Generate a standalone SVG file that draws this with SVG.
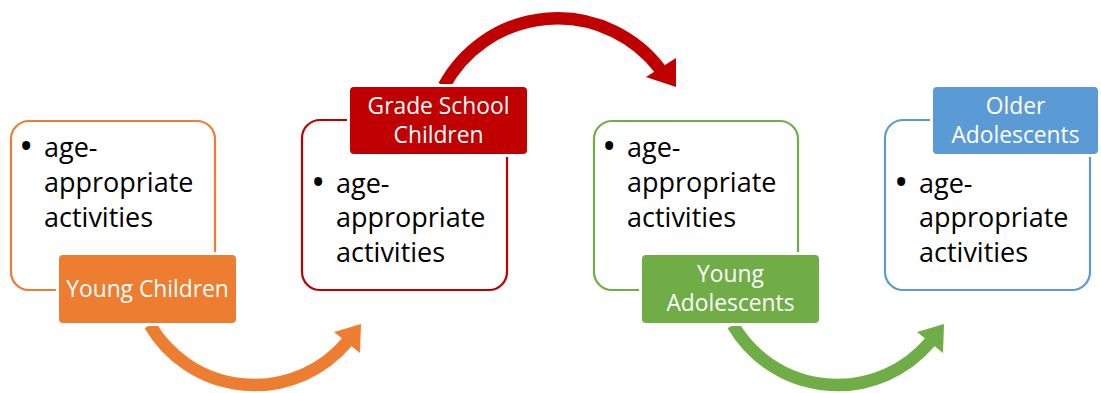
<svg xmlns="http://www.w3.org/2000/svg" width="1101" height="393" viewBox="0 0 1101 393">
<style>
  .frame{fill:#fff;stroke-width:2.2}
  .lab{stroke:#fff;stroke-width:6;paint-order:stroke}
  .body{font-family:"Open Sans","Noto Sans",sans-serif;font-size:27px;fill:#000}
  .bul{font-family:"Open Sans","Noto Sans",sans-serif;font-size:38px;fill:#000}
  .lt{font-family:"Open Sans","Noto Sans",sans-serif;font-size:22.8px;fill:#fff;text-anchor:middle}
  .arc{fill:none;stroke-width:12.5}
</style>
<rect width="1101" height="393" fill="#fff"/>
<g id="connectors">
  <path class="arc" stroke="#ED7D31" d="M150 325 A121 121 0 0 0 347 342"/>
  <polygon fill="#ED7D31" points="361,324 334,332 360,353"/>
  <path class="arc" stroke="#C00000" d="M444 86 A129 129 0 0 1 660 69"/>
  <polygon fill="#C00000" points="676,87 646,77 676,58"/>
  <path class="arc" stroke="#70AD47" d="M733 325 A121 121 0 0 0 930 342"/>
  <polygon fill="#70AD47" points="944,324 917,332 943,353"/>
</g>
<g id="node-young-children">
  <rect class="frame" stroke="#ED7D31" x="11" y="121" width="204" height="169" rx="18"/>
  <text class="bul" x="19" y="160">•</text>
  <text class="body"><tspan x="44" y="157">age-</tspan><tspan x="44" y="192">appropriate</tspan><tspan x="44" y="227">activities</tspan></text>
  <rect class="lab" fill="#ED7D31" x="59" y="255" width="177" height="68" rx="4"/>
  <text class="lt" x="147.5" y="297">Young Children</text>
</g>
<g id="node-grade-school">
  <rect class="frame" stroke="#C00000" x="302" y="120" width="205" height="170" rx="18"/>
  <text class="bul" x="311" y="196">•</text>
  <text class="body"><tspan x="336" y="193">age-</tspan><tspan x="336" y="227">appropriate</tspan><tspan x="336" y="262">activities</tspan></text>
  <rect class="lab" fill="#C00000" x="350" y="87" width="177" height="67" rx="4"/>
  <text class="lt"><tspan x="438.5" y="114">Grade School</tspan><tspan x="438.5" y="143">Children</tspan></text>
</g>
<g id="node-young-adolescents">
  <rect class="frame" stroke="#70AD47" x="594" y="121" width="204" height="169" rx="18"/>
  <text class="bul" x="602" y="160">•</text>
  <text class="body"><tspan x="627" y="157">age-</tspan><tspan x="627" y="192">appropriate</tspan><tspan x="627" y="227">activities</tspan></text>
  <rect class="lab" fill="#70AD47" x="642" y="255" width="177" height="68" rx="4"/>
  <text class="lt"><tspan x="730.5" y="282">Young</tspan><tspan x="730.5" y="311">Adolescents</tspan></text>
</g>
<g id="node-older-adolescents">
  <rect class="frame" stroke="#5B9BD5" x="885" y="120" width="205" height="170" rx="18"/>
  <text class="bul" x="894" y="196">•</text>
  <text class="body"><tspan x="919" y="193">age-</tspan><tspan x="919" y="227">appropriate</tspan><tspan x="919" y="262">activities</tspan></text>
  <rect class="lab" fill="#5B9BD5" x="933" y="87" width="165" height="67" rx="4"/>
  <text class="lt"><tspan x="1015.5" y="114">Older</tspan><tspan x="1015.5" y="143">Adolescents</tspan></text>
</g>
</svg>
